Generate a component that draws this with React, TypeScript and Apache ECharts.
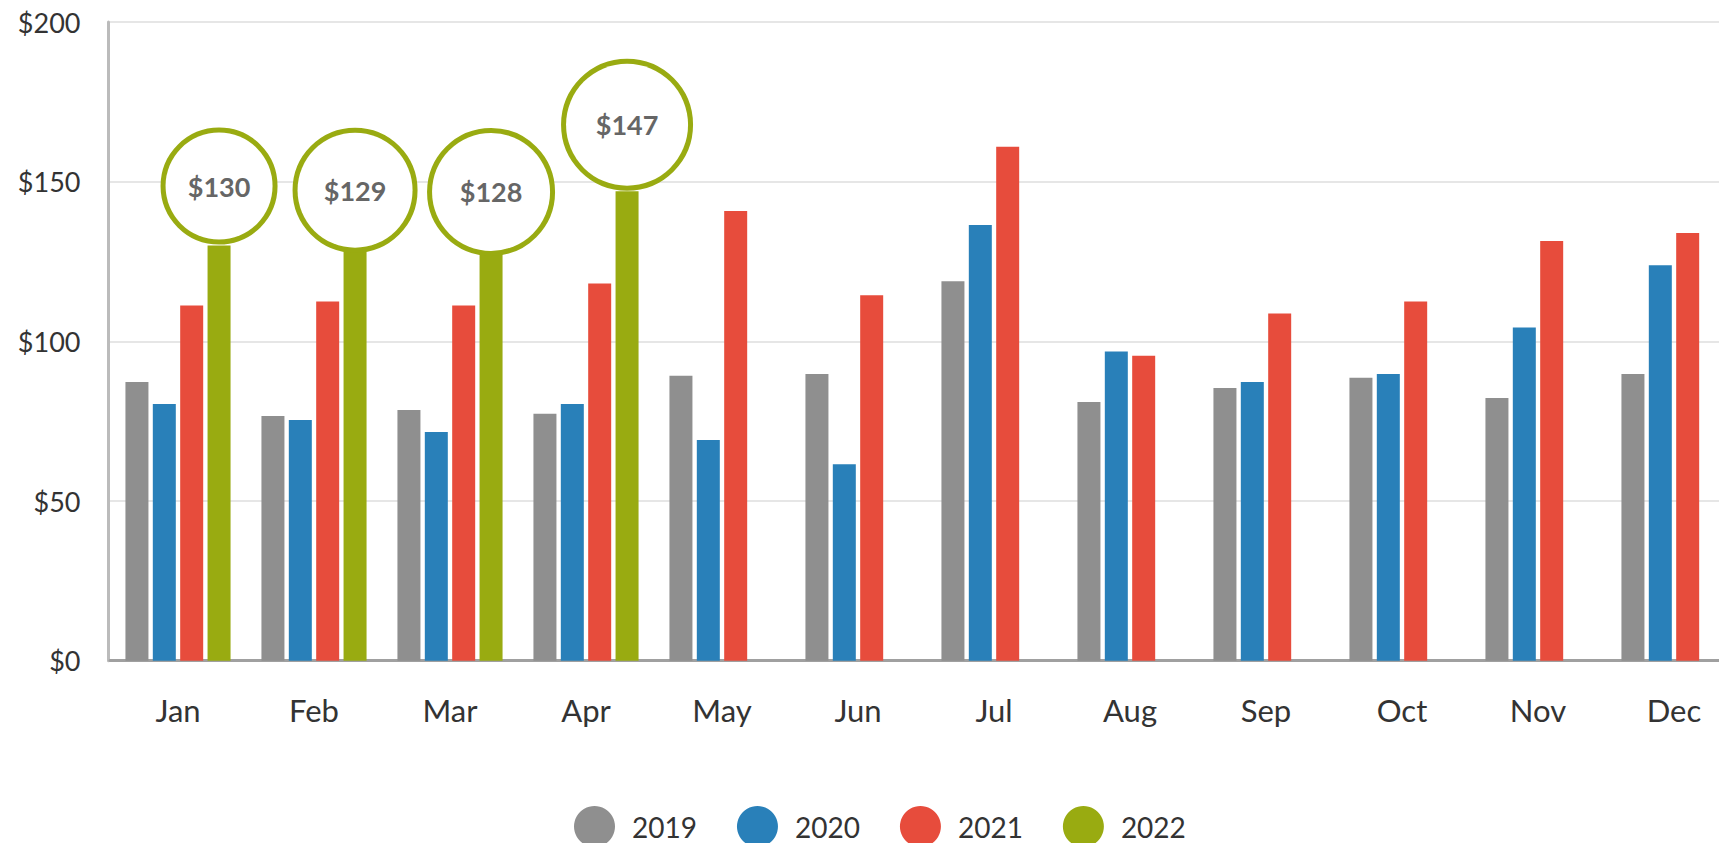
import React, { useEffect, useRef } from "react";
import * as echarts from "echarts";

const months = ["Jan", "Feb", "Mar", "Apr", "May", "Jun", "Jul", "Aug", "Sep", "Oct", "Nov", "Dec"];
const years = ["2019", "2020", "2021", "2022"];
const values2019 = [87.3, 76.6, 78.5, 77.3, 89.2, 89.8, 118.8, 81.0, 85.4, 88.6, 82.3, 89.8];
const values2020 = [80.4, 75.4, 71.6, 80.4, 69.1, 61.5, 136.4, 96.8, 87.3, 89.8, 104.3, 123.8];
const values2021 = [111.2, 112.5, 111.2, 118.1, 140.8, 114.4, 160.9, 95.5, 108.7, 112.5, 131.4, 133.9];
const values2022: (number | null)[] = [130, 129, 128, 147, null, null, null, null, null, null, null, null];
const yMin = 0;
const yMax = 200;
const yStep = 50;

const colors = ["#8f8f8f", "#2980b9", "#e74c3c", "#99ab11"];
// annotation badge styling (diameter and distance above the bar)
const badgeStyle = [
  { d: 107, gap: 6 },
  { d: 115, gap: 1 },
  { d: 118, gap: 1 },
  { d: 122, gap: 5.5 },
];

const FONT = "Lato, 'Noto Sans', sans-serif";

export default function App() {
  const ref = useRef<HTMLDivElement>(null);
  useEffect(() => {
    if (!ref.current) return;
    const chart = echarts.init(ref.current, null, { renderer: "svg" });
    const seriesValues = [values2019, values2020, values2021, values2022];
    const series: any[] = seriesValues.map((vals, si) => {
      const base: any = {
        name: years[si],
        type: "bar",
        barWidth: 23,
        barGap: "19%",
        itemStyle: { color: colors[si] },
        emphasis: { disabled: true },
        data: vals.map((v) => (v == null ? "-" : v)),
      };
      if (si === 3) {
        base.data = vals.map((v, i) => {
          if (v == null) return "-";
          const b = badgeStyle[i] || { d: 115, gap: 3 };
          return {
            value: v,
            label: {
              show: true,
              position: "top",
              distance: b.gap,
              formatter: "${c}",
              width: b.d,
              height: b.d,
              lineHeight: b.d,
              borderRadius: b.d,
              align: "center",
              backgroundColor: "#ffffff",
              borderColor: colors[3],
              borderWidth: 5,
              color: "#666666",
              fontFamily: FONT,
              fontSize: 27,
              fontWeight: "bold",
            },
          };
        });
      }
      return base;
    });

    chart.setOption({
      animation: false,
      textStyle: { fontFamily: FONT },
      grid: { left: 110, top: 22, width: 1632, height: 638.7 },
      legend: {
        data: years,
        left: 569,
        top: 801,
        icon: "circle",
        itemWidth: 41,
        itemHeight: 41,
        itemGap: 40,
        textStyle: {
          fontFamily: FONT,
          fontSize: 28,
          color: "#333333",
          padding: [0, 0, 0, 12],
        },
      },
      xAxis: {
        type: "category",
        data: months,
        offset: 1.5,
        axisTick: { show: false },
        axisLine: { show: true, lineStyle: { color: "#a0a0a0", width: 3 } },
        axisLabel: {
          interval: 0,
          margin: 32,
          fontFamily: FONT,
          fontSize: 31,
          color: "#333333",
        },
      },
      yAxis: {
        type: "value",
        min: yMin,
        max: yMax,
        interval: yStep,
        offset: 1.5,
        axisLine: { show: true, lineStyle: { color: "#bbbbbb", width: 3 } },
        axisTick: { show: false },
        splitLine: { lineStyle: { color: "#e6e6e6", width: 2 } },
        axisLabel: {
          margin: 28,
          formatter: "${value}",
          fontFamily: FONT,
          fontSize: 27,
          color: "#333333",
        },
      },
      series,
    });
    return () => chart.dispose();
  }, []);
  return (
    <div
      style={{ position: "fixed", left: 0, top: 0, width: 1719, height: 843, overflow: "hidden", background: "#fff" }}
    >
      <div ref={ref} style={{ width: 1760, height: 843 }} />
    </div>
  );
}
